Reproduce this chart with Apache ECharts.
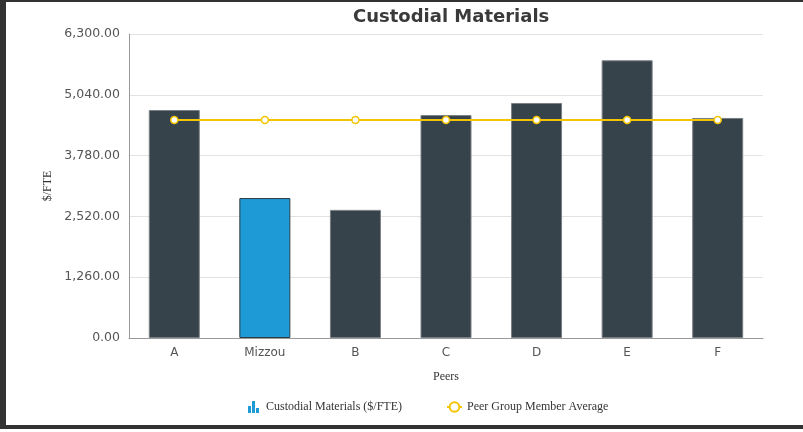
<!DOCTYPE html>
<html>
<head>
<meta charset="utf-8">
<script src="https://cdn.jsdelivr.net/npm/echarts@6/dist/echarts.min.js"></script>
<style>
html,body{margin:0;padding:0;background:#fff;}
#c{width:803px;height:432px;position:relative;}
#frame{position:absolute;left:0;top:0;width:797px;height:423px;border-left:6px solid #333;border-top:2px solid #333;border-bottom:4px solid #333;pointer-events:none;}
</style>
</head>
<body>
<div id="c"></div>
<div id="frame"></div>
<script>
const categories = ['A', 'Mizzou', 'B', 'C', 'D', 'E', 'F'];
const materialValues = [4725, 2900, 2655, 4620, 4870, 5755, 4560];
const peerAverage = [4520, 4520, 4520, 4520, 4520, 4520, 4520];
const highlightIndex = 1;

const chart = echarts.init(document.getElementById('c'));
chart.setOption({
  animation: false,
  title: {
    text: 'Custodial Materials',
    left: 348, top: 3,
    textStyle: {fontFamily: 'DejaVu Sans', fontSize: 18, fontWeight: 'bold', color: '#3a3a3a'}
  },
  grid: {left: 129, right: 40, top: 34, bottom: 94, containLabel: false},
  legend: {
    top: 396, left: 243, itemWidth: 15, itemHeight: 12, itemGap: 44,
    textStyle: {fontFamily: 'Liberation Serif', fontSize: 12, color: '#333'},
    data: [
      {name: 'Custodial Materials ($/FTE)', icon: 'path://M0,5h3v7h-3z M4,0h3v12h-3z M8,7h3v5h-3z', itemStyle: {color: '#1E9AD6'}},
      {name: 'Peer Group Member Average'}
    ]
  },
  xAxis: {
    type: 'category', data: categories,
    name: 'Peers', nameLocation: 'middle', nameGap: 33,
    nameTextStyle: {fontFamily: 'Liberation Serif', fontSize: 12, color: '#333'},
    axisLine: {lineStyle: {color: '#999'}},
    axisTick: {show: false},
    axisLabel: {fontFamily: 'DejaVu Sans', fontSize: 12, color: '#555', margin: 9}
  },
  yAxis: {
    type: 'value', min: 0, max: 6300, interval: 1260,
    name: '$/FTE', nameLocation: 'middle', nameGap: 75, nameMoveOverlap: false,
    nameTextStyle: {fontFamily: 'Liberation Serif', fontSize: 12, color: '#333'},
    axisLine: {show: true, lineStyle: {color: '#999'}},
    axisTick: {show: false},
    axisLabel: {fontFamily: 'DejaVu Sans', fontSize: 12.5, color: '#555', margin: 9,
      formatter: v => v.toLocaleString('en-US', {minimumFractionDigits: 2, maximumFractionDigits: 2})},
    splitLine: {lineStyle: {color: '#e2e2e2'}}
  },
  series: [
    {
      name: 'Custodial Materials ($/FTE)', type: 'bar', barWidth: 51,
      data: materialValues.map((v, i) => ({
        value: v,
        itemStyle: i === highlightIndex
          ? {color: '#1E9AD6', borderColor: '#2b3a44', borderWidth: 1}
          : {color: '#37434B', borderColor: '#7a7f83', borderWidth: 1}
      }))
    },
    {
      name: 'Peer Group Member Average', type: 'line', data: peerAverage,
      symbol: 'circle', symbolSize: 7,
      lineStyle: {color: '#F5C400', width: 2},
      itemStyle: {color: '#ffffff', borderColor: '#F5C400', borderWidth: 1.5}
    }
  ]
});
</script>
</body>
</html>
